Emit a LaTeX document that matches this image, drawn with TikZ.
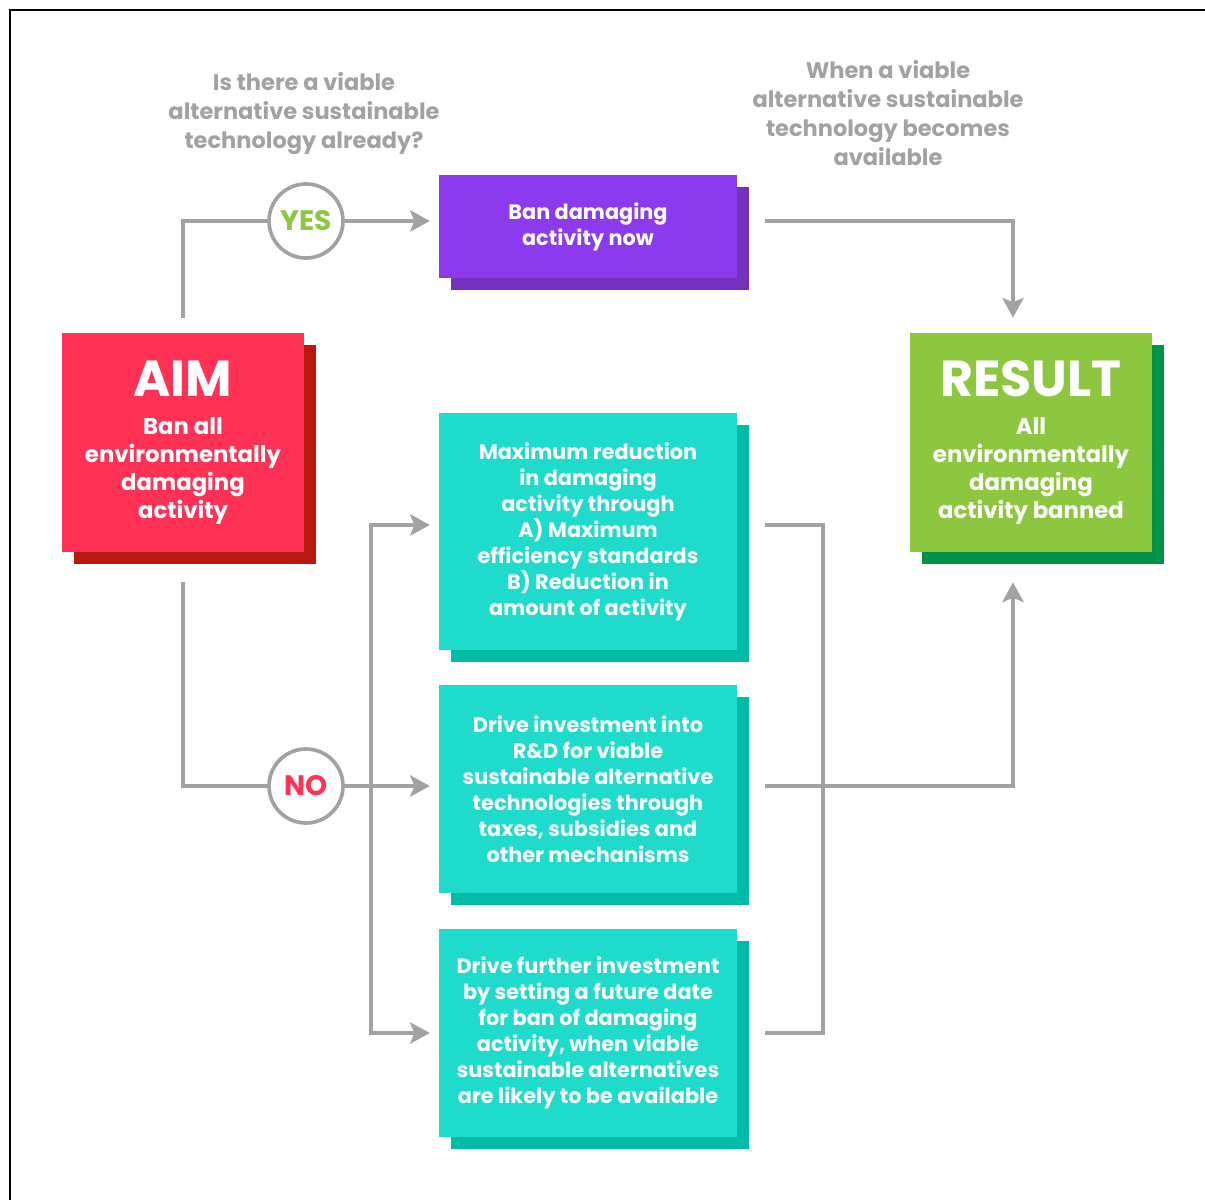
\documentclass[tikz,border=0pt]{standalone}
\usepackage{fontspec}
\setmainfont{Poppins}
\usepackage{tikz}
\usetikzlibrary{arrows.meta, shadows, calc}

\definecolor{aimred}{HTML}{FF3255}
\definecolor{aimdark}{HTML}{B8190E}
\definecolor{resgreen}{HTML}{8DC63F}
\definecolor{resdark}{HTML}{009248}
\definecolor{banpurple}{HTML}{8B3AEE}
\definecolor{bandark}{HTML}{7630BE}
\definecolor{actteal}{HTML}{1EDBCB}
\definecolor{actdark}{HTML}{00BBA5}
\definecolor{linegray}{HTML}{A2A2A2}

\tikzset{
  box/.style={minimum width=7.45cm, align=center, text=white,
    font=\fontsize{14.8}{18.5}\selectfont\bfseries},
  bigbox/.style={minimum width=6.05cm, minimum height=5.475cm, align=center,
    text=white, font=\fontsize{16.2}{20}\selectfont\bfseries},
  shade/.style={general shadow={fill=#1, shadow xshift=0.3cm, shadow yshift=-0.3cm}},
  choice/.style={circle, draw=linegray, line width=2.6pt, fill=white,
    minimum size=1.85cm, inner sep=0pt, font=\fontsize{20}{20}\selectfont\bfseries},
  link/.style={draw=linegray, line width=2.6pt},
  flow/.style={link, -{Stealth[length=14pt, width=15pt, inset=3pt]}},
  note/.style={align=center, text=linegray, font=\fontsize{16}{20.6}\selectfont\bfseries},
}

\begin{document}
\begin{tikzpicture}[x=0.025cm, y=-0.025cm]
  \useasboundingbox (0,0) rectangle (1205,1200);
  \fill[white] (0,0) rectangle (1205,1200);
  \draw[line width=1.4pt] (1205,10) -- (10,10) -- (10,1200);

  % aim and result
  \node[bigbox, fill=aimred, shade=aimdark] (aim) at (183,442.5)
    {{\fontsize{36}{36}\selectfont AIM}\\[7pt] Ban all\\ environmentally\\ damaging\\ activity};
  \node[bigbox, fill=resgreen, shade=resdark] (result) at (1031,442.5)
    {{\fontsize{36}{36}\selectfont RESULT}\\[7pt] All\\ environmentally\\ damaging\\ activity banned};

  % actions
  \node[box, fill=banpurple, shade=bandark, minimum height=2.575cm] (ban) at (588,226.5)
    {Ban damaging\\ activity now};
  \node[box, fill=actteal, shade=actdark, minimum height=5.925cm] (cut) at (588,531.5)
    {Maximum reduction\\ in damaging\\ activity through\\ A) Maximum\\ efficiency standards\\ B) Reduction in\\ amount of activity};
  \node[box, fill=actteal, shade=actdark, minimum height=5.2cm] (rnd) at (588,789)
    {Drive investment into\\ R\&D for viable\\ sustainable alternative\\ technologies through\\ taxes, subsidies and\\ other mechanisms};
  \node[box, fill=actteal, shade=actdark, minimum height=5.2cm] (date) at (588,1033)
    {Drive further investment\\ by setting a future date\\ for ban of damaging\\ activity, when viable\\ sustainable alternatives\\ are likely to be available};

  % questions
  \node[note] (ask) at (304,113.5) {Is there a viable\\ alternative sustainable\\ technology already?};
  \node[note] (when) at (888,113.5) {When a viable\\ alternative sustainable\\ technology becomes\\ available};

  % branches
  \draw[link] ([yshift=0.375cm]aim.north) |- (306,221);
  \draw[link] ([yshift=-0.75cm]aim.south) |- (306,786);
  \node[choice, text=resgreen] (yes) at (306,221) {YES};
  \node[choice, text=aimred] (no) at (306,786) {NO};
  \draw[flow, shorten >=0.22cm] (yes) -- (yes -| ban.west);
  \draw[flow, shorten >=0.22cm] (no) -- (no -| rnd.west);

  \coordinate (split) at (371,786);
  \draw[flow, shorten >=0.22cm] (split) |- ([yshift=0.1625cm]cut.west);
  \draw[flow, shorten >=0.22cm] (split) |- (date.west);

  % into the result
  \draw[flow, shorten >=0.375cm] ($(yes -| ban.east)+(28,0)$) -| ([xshift=-0.45cm]result.north);
  \coordinate (join) at (823,786);
  \draw[link] ($(cut.east)+(28,-6.5)$) -| (join) |- ($(date.east)+(28,0)$);
  \draw[flow, shorten >=0.75cm] ($(rnd.east)+(28,-3)$) -| ([xshift=-0.45cm]result.south);
\end{tikzpicture}
\end{document}
